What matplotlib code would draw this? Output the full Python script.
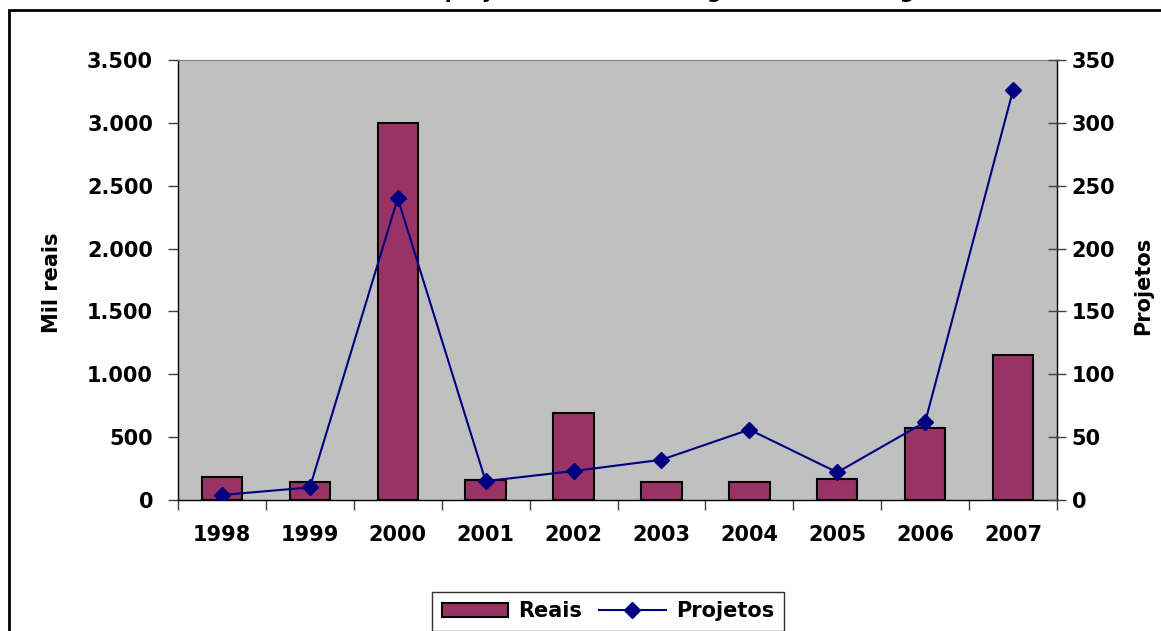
import numpy as np
import matplotlib.pyplot as plt
from matplotlib.patches import Rectangle
from matplotlib.lines import Line2D
from matplotlib.ticker import FuncFormatter

plt.rcParams['font.family'] = ['DejaVu Sans']
plt.rcParams['font.weight'] = 'bold'

# data
anos = ['1998', '1999', '2000', '2001', '2002', '2003', '2004', '2005', '2006', '2007']
reais = [185, 140, 3000, 158, 690, 140, 140, 170, 572, 1150]
projetos = [4, 10, 240, 15, 23, 32, 56, 22, 62, 326]

bar_color = '#993366'
line_color = '#000080'
fs = 15

fig = plt.figure(figsize=(11.61, 6.31), dpi=100)

# outer chart frame (cut off on the right and bottom)
fig.patches.append(Rectangle((9 / 1161, -0.05), 1.2, 1 - 10 / 631 + 0.05,
                             transform=fig.transFigure, fill=False,
                             edgecolor='black', linewidth=2))

# title, mostly cut off at the top
fig.text(0.55, 1 + 2 / 631, 'Número de projetos e recursos segundo ano de registro',
         ha='center', va='baseline', fontsize=fs, fontweight='bold')

ax = fig.add_axes([178 / 1161, 1 - 500 / 631, 879 / 1161, 440 / 631])
ax.set_facecolor('#C0C0C0')

x = np.arange(len(anos))
ax.bar(x, reais, width=0.46, color=bar_color, edgecolor='black', linewidth=1.5, zorder=2)
ax.set_xlim(-0.5, len(anos) - 0.5)
ax.set_ylim(0, 3500)
ax.set_yticks(np.arange(0, 3501, 500))
ax.yaxis.set_major_formatter(FuncFormatter(lambda v, p: f'{int(v):,}'.replace(',', '.')))
ax.set_xticks(x)
ax.set_xticklabels(anos)
ax.set_xticks(np.arange(-0.5, len(anos)), minor=True)
ax.tick_params(axis='x', which='major', length=0, pad=18, labelsize=fs)
ax.tick_params(axis='x', which='minor', length=7, width=1, color='#404040', direction='out')
ax.tick_params(axis='y', length=7, width=1, color='#404040', labelsize=fs, pad=11)

for s in ['left', 'bottom', 'right']:
    ax.spines[s].set_color('black')
    ax.spines[s].set_linewidth(1)
ax.spines['top'].set_color('#808080')

ax2 = ax.twinx()
ax2.plot(x, projetos, color=line_color, linewidth=1.5, marker='D', markersize=8,
         markerfacecolor=line_color, markeredgecolor=line_color, zorder=3)
ax2.set_ylim(0, 350)
ax2.set_yticks(np.arange(0, 351, 50))
ax2.tick_params(axis='y', length=13, width=1, color='#404040', direction='inout',
                labelsize=fs, pad=4)
for s in ax2.spines.values():
    s.set_visible(False)

for lab in ax.get_xticklabels() + ax.get_yticklabels() + ax2.get_yticklabels():
    lab.set_fontweight('bold')

# axis titles
fig.text(52 / 1161, 1 - 283 / 631, 'Mil reais', rotation=90, ha='center', va='center',
         fontsize=fs, fontweight='bold')
fig.text(1143 / 1161, 1 - 286 / 631, 'Projetos', rotation=90, ha='center', va='center',
         fontsize=fs, fontweight='bold')

handles = [Rectangle((0, 0), 1, 1, facecolor=bar_color, edgecolor='black', linewidth=1.5),
           Line2D([], [], color=line_color, linewidth=1.5, marker='D', markersize=8)]
leg = fig.legend(handles, ['Reais', 'Projetos'], loc='upper center',
                 bbox_to_anchor=(608 / 1161, 1 - 592 / 631), ncol=2, fontsize=fs,
                 frameon=True, fancybox=False, edgecolor='black',
                 handlelength=3.2, handleheight=0.6, columnspacing=0.8,
                 handletextpad=0.5, borderpad=0.45, borderaxespad=0)
leg.get_frame().set_linewidth(1)
for t in leg.get_texts():
    t.set_fontweight('bold')

fig.savefig('out.png', dpi=100)
